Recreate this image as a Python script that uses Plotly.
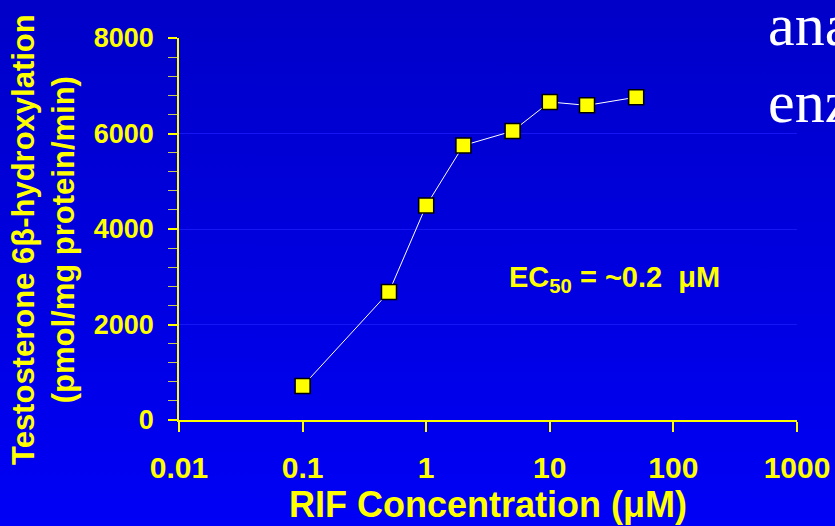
import base64
import plotly.graph_objects as go

# ---- data ----
conc = [0.1, 0.5, 1, 2, 5, 10, 20, 50]
activity = [710, 2680, 4490, 5750, 6050, 6660, 6590, 6760]
x_tickvals = [0.01, 0.1, 1, 10, 100, 1000]
x_ticktext = ["0.01", "0.1", "1", "10", "100", "1000"]
y_tickvals = [0, 2000, 4000, 6000, 8000]
y_ticktext = ["0", "2000", "4000", "6000", "8000"]

W, H = 835, 526
L, R, T, B = 179, 38, 38, 106
PW, PH = W - L - R, H - T - B

YELLOW = "#FFFF00"
FONT = "Liberation Sans, Arial, sans-serif"

svg = (
    '<svg xmlns="http://www.w3.org/2000/svg" width="10" height="100" preserveAspectRatio="none">'
    '<defs><linearGradient id="g" x1="0" y1="0" x2="0" y2="1">'
    '<stop offset="0" stop-color="rgb(0,0,200)"/>'
    '<stop offset="1" stop-color="rgb(0,0,246)"/>'
    '</linearGradient></defs>'
    '<rect width="10" height="100" fill="url(#g)"/></svg>'
)
bg_uri = "data:image/svg+xml;base64," + base64.b64encode(svg.encode()).decode()

fig = go.Figure()
fig.add_trace(go.Scatter(
    x=conc, y=activity, mode="lines+markers",
    line=dict(color="white", width=1),
    marker=dict(symbol="square", size=15, color=YELLOW,
                line=dict(color="black", width=1.5)),
    showlegend=False, cliponaxis=False,
))

fig.update_layout(
    width=W, height=H,
    margin=dict(l=L, r=R, t=T, b=B, autoexpand=False),
    paper_bgcolor="rgb(0,0,222)",
    plot_bgcolor="rgba(0,0,0,0)",
    font=dict(family=FONT, color=YELLOW),
    images=[dict(
        source=bg_uri, xref="paper", yref="paper",
        x=-L / PW, y=1 + T / PH, sizex=W / PW, sizey=H / PH,
        xanchor="left", yanchor="top", sizing="stretch", layer="below",
    )],
    xaxis=dict(
        type="log", range=[-2, 3], automargin=False,
        tickmode="array", tickvals=x_tickvals, ticktext=x_ticktext,
        ticks="outside", ticklen=10, tickwidth=1.5, tickcolor=YELLOW,
        showline=True, linecolor=YELLOW, linewidth=1.5,
        showgrid=False, zeroline=False,
        tickfont=dict(family=FONT, size=30, color=YELLOW, weight="bold"),
        ticklabelstandoff=10,
        title=dict(text="RIF Concentration (μM)", standoff=5,
                   font=dict(family=FONT, size=36, color=YELLOW, weight="bold")),
    ),
    yaxis=dict(
        range=[0, 8000], automargin=False,
        tickmode="array", tickvals=y_tickvals, ticktext=y_ticktext,
        ticks="outside", ticklen=9, tickwidth=1.5, tickcolor=YELLOW,
        showline=True, linecolor=YELLOW, linewidth=1.5,
        showgrid=True, gridcolor="rgb(22,22,245)", gridwidth=1,
        zeroline=False,
        minor=dict(dtick=400, ticks="outside", ticklen=9, tickwidth=1,
                   tickcolor="rgb(200,200,90)", showgrid=False),
        tickfont=dict(family=FONT, size=27, color=YELLOW, weight="bold"),
        ticklabelstandoff=9,
    ),
    annotations=[
        dict(text="Testosterone 6β-hydroxylation<br>(pmol/mg protein/min)",
             xref="paper", yref="paper", x=(43 - L) / PW, y=(H - B - 240) / PH,
             xanchor="center", yanchor="middle", textangle=-90, showarrow=False,
             font=dict(family=FONT, size=31, color=YELLOW, weight="bold")),
        dict(text="EC<sub>50</sub> = ~0.2 \u00a0μM",
             xref="paper", yref="paper", x=(614 - L) / PW, y=(H - B - 279) / PH,
             xanchor="center", yanchor="middle", showarrow=False,
             font=dict(family=FONT, size=29, color=YELLOW, weight="bold")),
        dict(text="ana", xref="paper", yref="paper",
             x=(766 - L) / PW, y=(H - B - 25) / PH,
             xanchor="left", yanchor="middle", showarrow=False,
             font=dict(family="Liberation Serif, Times New Roman, serif", size=60, color="white")),
        dict(text="enz", xref="paper", yref="paper",
             x=(766 - L) / PW, y=(H - B - 102) / PH,
             xanchor="left", yanchor="middle", showarrow=False,
             font=dict(family="Liberation Serif, Times New Roman, serif", size=60, color="white")),
    ],
)

fig.write_html(
    "out.html",
    config={"displayModeBar": False},
    post_script="document.body.style.margin='0';document.body.style.overflow='hidden';",
)
